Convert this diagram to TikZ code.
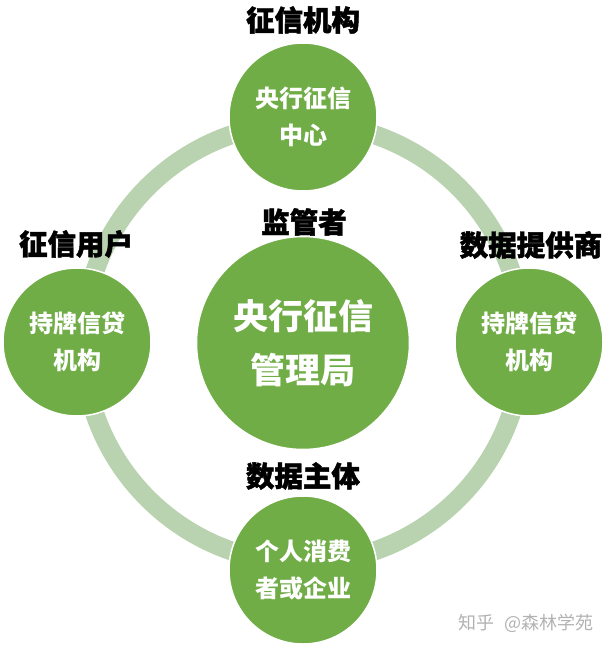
\documentclass[tikz,border=0pt]{standalone}
\usepackage{fontspec}
\setmainfont{Noto Sans CJK SC}
\newfontfamily\heavyfont{Noto Sans CJK SC}[BoldFeatures={FakeBold=1.6}]
\usetikzlibrary{backgrounds}
\definecolor{leafgreen}{HTML}{70AD47}
\definecolor{ringgreen}{HTML}{B9D2AF}
\begin{document}
\begin{tikzpicture}[x=1pt,y=-1pt,
  role/.style={circle,fill=leafgreen,draw=white,line width=1.5pt,minimum size=148pt,inner sep=0pt,
    text=white,align=center,font=\fontsize{24}{37}\selectfont\bfseries},
  hub/.style={role,minimum size=213pt,font=\fontsize{35}{54}\selectfont\bfseries},
  caption/.style={inner sep=0pt,text=black,font=\heavyfont\fontsize{28.5}{30}\selectfont\bfseries},
  ring/.style={ringgreen,line width=19pt}]
\useasboundingbox (0,0) rectangle (609,650);
\node[hub] (bureau) at (303,343) {央行征信\\管理局};
\node[role] (center) at (303,117) {央行征信\\中心};
\node[role] (user) at (77,342) {持牌信贷\\机构};
\node[role] (provider) at (529,342) {持牌信贷\\机构};
\node[role] (subject) at (303,570) {个人消费\\者或企业};
\node[caption] (centerlabel) at (303,20) {征信机构};
\node[caption] (bureaulabel) at (304,222) {监管者};
\node[caption] (userlabel) at (76,244) {征信用户};
\node[caption] (providerlabel) at (531,245) {数据提供商};
\node[caption] (subjectlabel) at (303,476) {数据主体};
\node[inner sep=0pt,text=black!30,font=\fontsize{18}{20}\selectfont] (mark) at (526,623) {知乎\hspace{10pt}@森林学苑};
\begin{scope}[on background layer]
\draw[ring] ([yshift=-6pt]center.center) to[bend right=45] ([xshift=6pt]user.center);
\draw[ring] ([xshift=6pt]user.center) to[bend right=45] ([yshift=7pt]subject.center);
\draw[ring] ([yshift=7pt]subject.center) to[bend right=45] ([xshift=-6pt]provider.center);
\draw[ring] ([xshift=-6pt]provider.center) to[bend right=45] ([yshift=-6pt]center.center);
\end{scope}
\end{tikzpicture}
\end{document}
